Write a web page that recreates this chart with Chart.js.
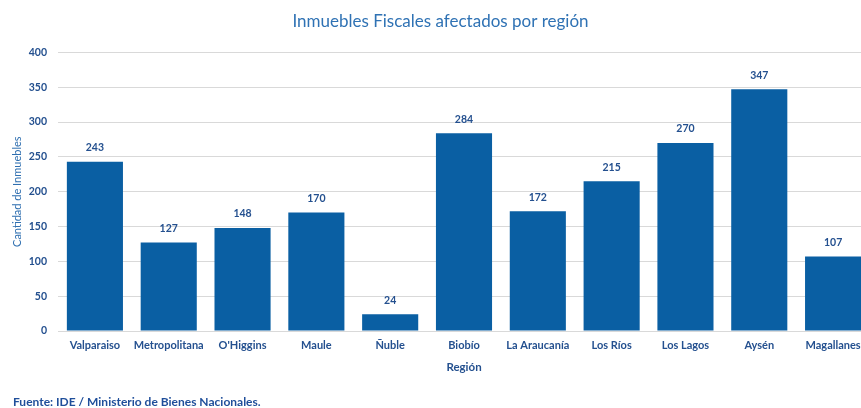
<!DOCTYPE html>
<html>
<head>
<meta charset="utf-8">
<script src="https://cdn.jsdelivr.net/npm/chart.js@4/dist/chart.umd.min.js"></script>
<style>
  html, body { margin: 0; padding: 0; background: #fff; overflow: hidden; }
  #wrap { width: 870px; height: 408px; }
</style>
</head>
<body>
<div id="wrap"><canvas id="graf"></canvas></div>
<script>
// datos
const regiones = ['Valparaiso', 'Metropolitana', "O'Higgins", 'Maule', 'Ñuble', 'Biobío', 'La Araucanía', 'Los Ríos', 'Los Lagos', 'Aysén', 'Magallanes'];
const inmuebles = [243, 127, 148, 170, 24, 284, 172, 215, 270, 347, 107];
const yTicks = [0, 50, 100, 150, 200, 250, 300, 350, 400];
const fuenteTexto = 'Fuente: IDE / Ministerio de Bienes Nacionales.';

const azulBarra = '#0a5fa3';
const azulTexto = '#24508f';
const fuente = 'Lato, "Open Sans", sans-serif';

// etiquetas encima de cada barra + nota de fuente abajo
const etiquetas = {
    id: 'etiquetas',
    afterDatasetsDraw(chart) {
        const ctx = chart.ctx;
        const meta = chart.getDatasetMeta(0);
        ctx.save();
        ctx.font = 'bold 10.5px ' + fuente;
        ctx.fillStyle = azulTexto;
        ctx.textAlign = 'center';
        ctx.textBaseline = 'middle';
        meta.data.forEach((bar, i) => {
            ctx.fillText(chart.data.datasets[0].data[i], bar.x, bar.y - 14);
        });
        ctx.textAlign = 'left';
        ctx.fillStyle = '#1f4e9a';
        ctx.font = 'bold 12px ' + fuente;
        ctx.fillText(fuenteTexto, 13, chart.height - 6);
        ctx.restore();
    }
};

new Chart(document.getElementById('graf'), {
    type: 'bar',
    data: {
        labels: regiones,
        datasets: [{
            data: inmuebles,
            backgroundColor: azulBarra,
            borderWidth: 0,
            barPercentage: 0.76,
            categoryPercentage: 1
        }]
    },
    options: {
        responsive: true,
        maintainAspectRatio: false,
        animation: false,
        layout: { padding: { left: 11, right: 0, top: 0, bottom: 34 } },
        plugins: {
            legend: { display: false },
            tooltip: { enabled: false },
            title: {
                display: true,
                text: 'Inmuebles Fiscales afectados por región',
                color: '#2f72b4',
                font: { family: fuente, size: 17, weight: 'normal' },
                padding: { top: 11, bottom: 21 }
            }
        },
        scales: {
            x: {
                afterFit(scale) { scale.height = 43; },
                grid: { display: false },
                border: { display: true, color: '#d9d9d9', width: 1 },
                ticks: {
                    color: azulTexto,
                    font: { family: fuente, size: 11, weight: 'bold' },
                    maxRotation: 0,
                    autoSkip: false,
                    padding: 0
                },
                title: {
                    display: true,
                    text: 'Región',
                    color: azulTexto,
                    font: { family: fuente, size: 11.5, weight: 'bold' },
                    padding: { top: 0, bottom: 0 }
                }
            },
            y: {
                min: 0,
                max: 400,
                afterBuildTicks(scale) {
                    scale.ticks = yTicks.map(v => ({ value: v }));
                },
                afterFit(scale) { scale.width = 47; },
                grid: { color: '#d9d9d9', lineWidth: 1, drawTicks: false },
                border: { display: false },
                ticks: {
                    color: azulTexto,
                    font: { family: fuente, size: 10.5, weight: 'bold' },
                    padding: 11
                },
                title: {
                    display: true,
                    text: 'Cantidad de Inmuebles',
                    color: '#2f6fb0',
                    font: { family: fuente, size: 11, weight: 'normal' },
                    padding: { top: 0, bottom: 0 }
                }
            }
        }
    },
    plugins: [etiquetas]
});
</script>
</body>
</html>
